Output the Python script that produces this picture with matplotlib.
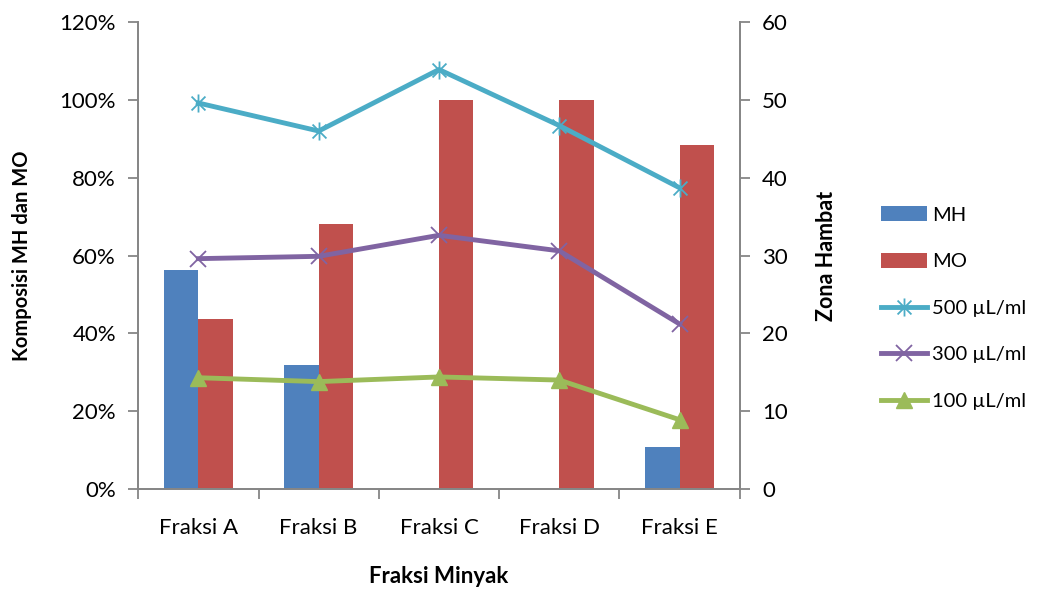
import matplotlib
matplotlib.use("Agg")
import matplotlib.pyplot as plt
import numpy as np
from matplotlib.path import Path
from matplotlib.ticker import FuncFormatter

plt.rcParams["font.family"] = ["Lato", "DejaVu Sans"]

fraksi = ["Fraksi A", "Fraksi B", "Fraksi C", "Fraksi D", "Fraksi E"]
mh = [56.4, 31.8, 0, 0, 10.9]        # %
mo = [43.6, 68.0, 100, 100, 88.5]    # %
zona_500 = [49.6, 46.0, 53.9, 46.7, 38.7]
zona_300 = [29.6, 29.9, 32.6, 30.6, 21.2]
zona_100 = [14.3, 13.8, 14.4, 14.0, 8.9]

blue = "#4F81BD"
red = "#C0504D"
cyan = "#4BACC6"
purple = "#8064A2"
green = "#9BBB59"
axis_grey = "#868686"

# excel-style star: an x with a vertical stroke through it
star = Path([(-1, -1), (1, 1), (-1, 1), (1, -1), (0, -1.3), (0, 1.3)],
            [Path.MOVETO, Path.LINETO, Path.MOVETO, Path.LINETO,
             Path.MOVETO, Path.LINETO])

fig = plt.figure(figsize=(10.39, 5.96), dpi=100)
ax = fig.add_axes([0.133, 0.1795, 0.579, 0.7835])
ax2 = ax.twinx()

x = np.arange(len(fraksi))
w = 0.286
ax.bar(x - w / 2, mh, w, color=blue, label="MH")
ax.bar(x + w / 2, mo, w, color=red, label="MO")

ax2.plot(x, zona_500, color=cyan, lw=3.5, marker=star, ms=13, mew=1.3,
         label="500 \u00b5L/ml")
ax2.plot(x, zona_300, color=purple, lw=3.5, marker="x", ms=12, mew=1.3,
         label="300 \u00b5L/ml")
ax2.plot(x, zona_100, color=green, lw=3.5, marker="^", ms=12,
         label="100 \u00b5L/ml")

ax.set_xlim(-0.5, len(fraksi) - 0.5)
ax.set_ylim(0, 120)
ax2.set_ylim(0, 60)
ax.set_yticks(np.arange(0, 121, 20))
ax2.set_yticks(np.arange(0, 61, 10))
ax.yaxis.set_major_formatter(FuncFormatter(lambda v, p: "%d%%" % v))

# category ticks sit between groups, labels at the centres
ax.set_xticks(np.arange(-0.5, len(fraksi), 1.0))
ax.set_xticklabels([])
ax.set_xticks(x, minor=True)
ax.set_xticklabels(fraksi, minor=True)
ax.tick_params(axis="x", which="minor", length=0, pad=21, labelsize=16)
ax.tick_params(axis="x", which="major", length=7, width=1.3, color=axis_grey,
               direction="out")

for a in (ax, ax2):
    a.spines["top"].set_visible(False)
    for s in ("left", "right", "bottom"):
        a.spines[s].set_color(axis_grey)
        a.spines[s].set_linewidth(1.3)
    a.tick_params(axis="y", length=7, width=1.3, color=axis_grey, labelsize=16,
                  pad=9)

ax.set_ylabel("Komposisi MH dan MO", fontsize=14.5, fontweight="bold",
              labelpad=20)
ax2.set_ylabel("Zona Hambat", fontsize=15.5, fontweight="bold", labelpad=20)
ax.set_xlabel("Fraksi Minyak", fontsize=16, fontweight="bold", labelpad=20)

h1, l1 = ax.get_legend_handles_labels()
h2, l2 = ax2.get_legend_handles_labels()
fig.legend(h1 + h2, l1 + l2, loc="center left", bbox_to_anchor=(0.838, 0.483),
           frameon=False, fontsize=14.5, handlelength=2.3, handleheight=0.75,
           labelspacing=1.45, handletextpad=0.25, borderpad=0)

fig.savefig("out.png", dpi=100)
